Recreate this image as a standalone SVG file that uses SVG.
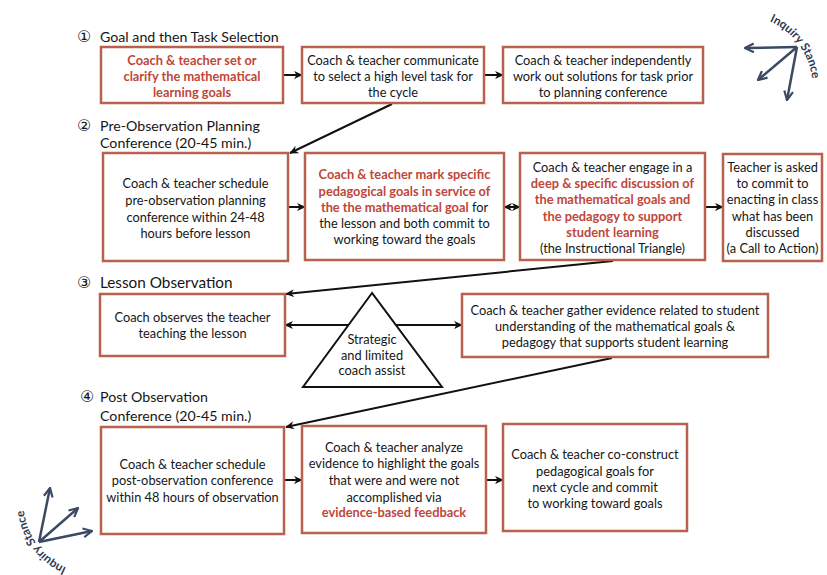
<svg xmlns="http://www.w3.org/2000/svg" width="827" height="575" viewBox="0 0 827 575">
<defs>
<style>
.box{fill:#fff;stroke:#b9614f;stroke-width:2.5}
.t{font-family:Lato,"Liberation Sans",sans-serif;font-size:12.8px;fill:#161616;text-anchor:middle}
.r{fill:#c0463a;font-weight:bold}
.h{font-family:Lato,"Liberation Sans",sans-serif;font-size:14.2px;fill:#161616}
.num{font-family:"DejaVu Sans",sans-serif;font-size:16px}
.c{stroke:#111;stroke-width:2;fill:none}
.inq{stroke:#3c4963;stroke-width:2.5;fill:none}
.it{font-family:Lato,"Liberation Sans",sans-serif;font-size:11.8px;fill:#2f3a52;font-weight:bold}
</style>
<marker id="a" viewBox="0 0 10 10" refX="9" refY="5" markerWidth="9" markerHeight="9" markerUnits="userSpaceOnUse" orient="auto-start-reverse">
<path d="M0,0.5 L10,5 L0,9.5 L3,5 z" fill="#111"/>
</marker>
<marker id="b" viewBox="0 0 10 10" refX="9" refY="5" markerWidth="11" markerHeight="11" markerUnits="userSpaceOnUse" orient="auto">
<path d="M1,1 L9,5 L1,9" fill="none" stroke="#3c4963" stroke-width="2"/>
</marker>
<path id="arcTR" d="M768.5,20.8 A72,72 0 0,1 812.3,80"/>
</defs>

<g id="headers">
<text class="h" x="77" y="42"><tspan class="num">①</tspan><tspan x="100">Goal and then Task Selection</tspan></text>
<text class="h" x="77" y="131"><tspan class="num">②</tspan><tspan x="100">Pre-Observation Planning</tspan></text>
<text class="h" x="100" y="148">Conference (20-45 min.)</text>
<text class="h" x="77" y="288" style="font-size:15.3px"><tspan class="num">③</tspan><tspan x="100">Lesson Observation</tspan></text>
<text class="h" x="80" y="402"><tspan class="num">④</tspan><tspan x="100">Post Observation</tspan></text>
<text class="h" x="100" y="421">Conference (20-45 min.)</text>
</g>

<g id="connectors">
<line class="c" x1="283" y1="75" x2="302" y2="75" marker-end="url(#a)"/>
<line class="c" x1="484" y1="75" x2="503" y2="75" marker-end="url(#a)"/>
<line class="c" x1="392" y1="104" x2="290" y2="153" marker-end="url(#a)"/>
<line class="c" x1="288" y1="207" x2="305" y2="207" marker-end="url(#a)"/>
<line class="c" x1="504" y1="207" x2="520" y2="207" marker-start="url(#a)" marker-end="url(#a)"/>
<line class="c" x1="705" y1="207" x2="723" y2="207" marker-end="url(#a)"/>
<line class="c" x1="613" y1="261" x2="286" y2="294" marker-end="url(#a)"/>
<line class="c" x1="285" y1="325" x2="462" y2="325" marker-start="url(#a)" marker-end="url(#a)"/>
<line class="c" x1="612" y1="358" x2="286" y2="427" marker-end="url(#a)"/>
<line class="c" x1="284" y1="480" x2="302" y2="480" marker-end="url(#a)"/>
<line class="c" x1="486" y1="480" x2="503" y2="480" marker-end="url(#a)"/>
</g>

<g id="n1">
<rect class="box" x="101" y="47" width="182" height="56"/>
<text class="t r" x="192" y="65">Coach &amp; teacher set or</text>
<text class="t r" x="192" y="81">clarify the mathematical</text>
<text class="t r" x="192" y="97">learning goals</text>
</g>
<g id="n2">
<rect class="box" x="302" y="47" width="182" height="56"/>
<text class="t" x="393" y="65">Coach &amp; teacher communicate</text>
<text class="t" x="393" y="81">to select a high level task for</text>
<text class="t" x="393" y="97">the cycle</text>
</g>
<g id="n3">
<rect class="box" x="503" y="47" width="200" height="56"/>
<text class="t" x="603" y="65">Coach &amp; teacher independently</text>
<text class="t" x="603" y="81">work out solutions for task prior</text>
<text class="t" x="603" y="97">to planning conference</text>
</g>

<g id="n4">
<rect class="box" x="103" y="153" width="185" height="108"/>
<text class="t" x="195.5" y="188">Coach &amp; teacher schedule</text>
<text class="t" x="195.5" y="205">pre-observation planning</text>
<text class="t" x="195.5" y="221.5">conference within 24-48</text>
<text class="t" x="195.5" y="237.5">hours before lesson</text>
</g>
<g id="n5">
<rect class="box" x="305" y="153" width="199" height="107"/>
<text class="t r" x="404.5" y="179">Coach &amp; teacher mark specific</text>
<text class="t r" x="404.5" y="195.5">pedagogical goals in service of</text>
<text class="t" x="404.5" y="211.5"><tspan class="r">the the mathematical goal</tspan> for</text>
<text class="t" x="404.5" y="228">the lesson and both commit to</text>
<text class="t" x="404.5" y="244">working toward the goals</text>
</g>
<g id="n6">
<rect class="box" x="520" y="153" width="185" height="107"/>
<text class="t" x="612.5" y="171.5">Coach &amp; teacher engage in a</text>
<text class="t r" x="612.5" y="187.5">deep &amp; specific discussion of</text>
<text class="t r" x="612.5" y="204">the mathematical goals and</text>
<text class="t r" x="612.5" y="220.5">the pedagogy to support</text>
<text class="t r" x="612.5" y="236.5">student learning</text>
<text class="t" x="612.5" y="253">(the Instructional Triangle)</text>
</g>
<g id="n7">
<rect class="box" x="723" y="154" width="99" height="107"/>
<text class="t" x="772.5" y="171.5">Teacher  is asked</text>
<text class="t" x="772.5" y="187.5">to commit to</text>
<text class="t" x="772.5" y="204">enacting in class</text>
<text class="t" x="772.5" y="220.5">what has been</text>
<text class="t" x="772.5" y="236.5">discussed</text>
<text class="t" x="772.5" y="253">(a Call to Action)</text>
</g>

<g id="n8">
<rect class="box" x="100" y="294" width="185" height="62"/>
<text class="t" x="192.5" y="321.5">Coach observes the teacher</text>
<text class="t" x="192.5" y="338">teaching the lesson</text>
</g>
<g id="n9">
<polygon points="372,293 303,387 442,387" fill="#fff" stroke="#111" stroke-width="2"/>
<text class="t" x="372" y="344">Strategic</text>
<text class="t" x="372" y="359.5">and limited</text>
<text class="t" x="372" y="375">coach assist</text>
</g>
<g id="n10">
<rect class="box" x="462" y="294" width="306" height="63"/>
<text class="t" x="615" y="315">Coach &amp; teacher gather evidence related to student</text>
<text class="t" x="615" y="331">understanding of the mathematical goals &amp;</text>
<text class="t" x="615" y="347">pedagogy that supports student learning</text>
</g>

<g id="n11">
<rect class="box" x="101" y="427" width="183" height="107"/>
<text class="t" x="192.5" y="469">Coach &amp; teacher schedule</text>
<text class="t" x="192.5" y="485">post-observation conference</text>
<text class="t" x="192.5" y="501.5">within 48 hours of observation</text>
</g>
<g id="n12">
<rect class="box" x="302" y="426" width="184" height="107"/>
<text class="t" x="394" y="452">Coach &amp; teacher analyze</text>
<text class="t" x="394" y="468">evidence to highlight the goals</text>
<text class="t" x="394" y="485">that were and were not</text>
<text class="t" x="394" y="501.5">accomplished via</text>
<text class="t r" x="394" y="517">evidence-based feedback</text>
</g>
<g id="n13">
<rect class="box" x="503" y="424" width="184" height="107"/>
<text class="t" x="595" y="459">Coach &amp; teacher co-construct</text>
<text class="t" x="595" y="475.5">pedagogical goals for</text>
<text class="t" x="595" y="491.5">next cycle and commit</text>
<text class="t" x="595" y="507.5">to working toward goals</text>
</g>

<g id="inquiry-top">
<line class="inq" x1="797" y1="47" x2="745" y2="48" marker-end="url(#b)"/>
<line class="inq" x1="797" y1="47" x2="758" y2="80" marker-end="url(#b)"/>
<line class="inq" x1="797" y1="47" x2="787" y2="100" marker-end="url(#b)"/>
<text class="it" text-anchor="middle"><textPath href="#arcTR" startOffset="50%">Inquiry Stance</textPath></text>
</g>
<g id="inquiry-bottom">
<line class="inq" x1="39" y1="542" x2="50" y2="488" marker-end="url(#b)"/>
<line class="inq" x1="39" y1="542" x2="78" y2="508" marker-end="url(#b)"/>
<line class="inq" x1="39" y1="542" x2="92" y2="531" marker-end="url(#b)"/>
<text class="it" text-anchor="middle" transform="rotate(180 418 294.5)"><textPath href="#arcTR" startOffset="50%">Inquiry Stance</textPath></text>
</g>
</svg>
